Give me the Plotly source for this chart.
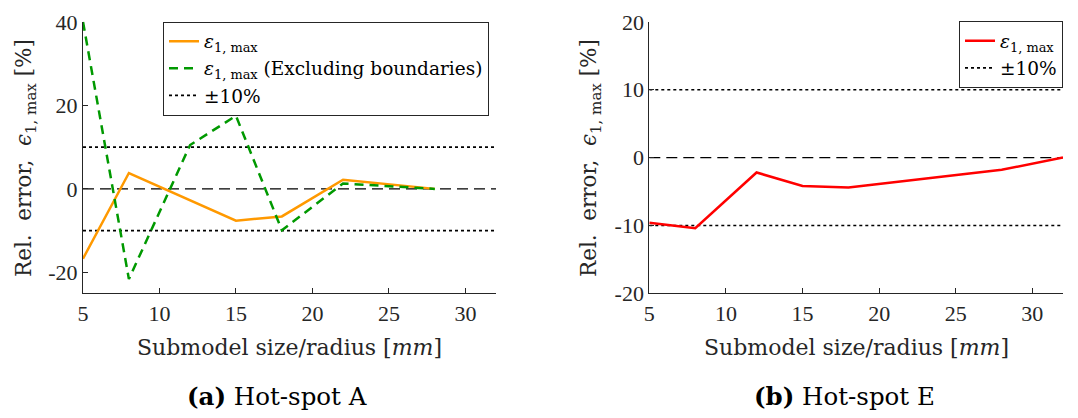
import plotly.graph_objects as go

# ---- data ----
xA_full = [5, 8, 15, 18, 22, 28]
yA_full = [-16.7, 3.8, -7.6, -6.6, 2.2, 0.0]
xA_excl = [5, 8, 12, 15, 18, 22, 28]
yA_excl = [40.0, -21.6, 10.5, 17.5, -9.9, 1.3, 0.0]
xE = [5, 8, 12, 15, 18, 28, 32]
yE = [-9.6, -10.4, -2.2, -4.2, -4.4, -1.8, 0.0]

x_range = [5, 32]
x_ticks = [5, 10, 15, 20, 25, 30]
yA_ticks = [-20, 0, 20, 40]
yE_ticks = [-20, -10, 0, 10, 20]
band = 10

FONT = "DejaVu Serif"
TICKFONT = "Liberation Serif"
AX = "#262626"

fig = go.Figure()

def ref_lines(xa, ya, legend, show):
    fig.add_trace(go.Scatter(x=x_range, y=[band, band], mode="lines", xaxis=xa, yaxis=ya,
                             line=dict(color="black", width=1.6, dash="dot"),
                             name="±10%", showlegend=show, legend=legend, legendrank=3))
    fig.add_trace(go.Scatter(x=x_range, y=[-band, -band], mode="lines", xaxis=xa, yaxis=ya,
                             line=dict(color="black", width=1.6, dash="dot"),
                             showlegend=False, legend=legend))
    fig.add_trace(go.Scatter(x=x_range, y=[0, 0], mode="lines", xaxis=xa, yaxis=ya,
                             line=dict(color="black", width=1.2, dash="11px,6px"),
                             showlegend=False, legend=legend))

ref_lines("x", "y", "legend", True)
fig.add_trace(go.Scatter(x=xA_full, y=yA_full, mode="lines", xaxis="x", yaxis="y",
                         line=dict(color="#FF9900", width=2.5),
                         name="<i>ε</i><sub>1, max</sub>", legend="legend", legendrank=1))
fig.add_trace(go.Scatter(x=xA_excl, y=yA_excl, mode="lines", xaxis="x", yaxis="y",
                         line=dict(color="#009900", width=2.5, dash="9px,6px"),
                         name="<i>ε</i><sub>1, max</sub> (Excluding boundaries)",
                         legend="legend", legendrank=2))

ref_lines("x2", "y2", "legend2", True)
fig.add_trace(go.Scatter(x=xE, y=yE, mode="lines", xaxis="x2", yaxis="y2",
                         line=dict(color="#FF0000", width=2.5),
                         name="<i>ε</i><sub>1, max</sub>", legend="legend2", legendrank=1))

axis_common = dict(showline=True, linecolor=AX, linewidth=1, ticks="inside", ticklen=5,
                   tickcolor=AX, showgrid=False, zeroline=False, mirror=False,
                   automargin=False,
                   tickfont=dict(family=TICKFONT, size=22, color=AX))

W, H = 1078, 418
yd = [1 - 293.3 / H, 1 - 21.8 / H]
LEGFS = 18.5

fig.update_layout(
    width=W, height=H, margin=dict(l=0, r=0, t=0, b=0, autoexpand=False),
    paper_bgcolor="white", plot_bgcolor="white",
    font=dict(family=FONT, size=20, color=AX),
    xaxis=dict(domain=[83 / W, 496 / W], range=x_range, tickvals=x_ticks,
               ticktext=[str(v) for v in x_ticks], anchor="y", **axis_common),
    yaxis=dict(domain=yd, range=[-25, 40], tickvals=yA_ticks,
               ticktext=[str(v) for v in yA_ticks], anchor="x", **axis_common),
    xaxis2=dict(domain=[649.3 / W, 1063 / W], range=x_range, tickvals=x_ticks,
                ticktext=[str(v) for v in x_ticks], anchor="y2", **axis_common),
    yaxis2=dict(domain=yd, range=[-20, 20], tickvals=yE_ticks,
                ticktext=[str(v) for v in yE_ticks], anchor="x2", **axis_common),
    legend=dict(x=163 / W, y=1 - 21.7 / H, xanchor="left", yanchor="top",
                bgcolor="white", bordercolor=AX, borderwidth=1,
                font=dict(family=FONT, size=LEGFS, color="black"),
                tracegroupgap=0, itemwidth=30),
    legend2=dict(x=1063 / W, y=1 - 21.3 / H, xanchor="right", yanchor="top",
                 bgcolor="white", bordercolor=AX, borderwidth=1,
                 font=dict(family=FONT, size=LEGFS, color="black"),
                 tracegroupgap=0, itemwidth=30),
)

ytitle = "Rel.  error,  <i>ϵ</i><sub>1, max</sub> [%]"
xtitle = "Submodel size/radius [<i>mm</i>]"
ann = [
    dict(x=25 / W, y=1 - 158 / H, text=ytitle, textangle=-90, color=AX, size=21.5),
    dict(x=590 / W, y=1 - 158 / H, text=ytitle, textangle=-90, color=AX, size=21.5),
    dict(x=289 / W, y=1 - 347 / H, text=xtitle, color=AX, size=22),
    dict(x=856 / W, y=1 - 347 / H, text=xtitle, color=AX, size=22),
    dict(x=277 / W, y=1 - 396 / H, text="<b>(a)</b> Hot-spot A", color="black", size=24.5),
    dict(x=844 / W, y=1 - 396 / H, text="<b>(b)</b> Hot-spot E", color="black", size=24.5),
]
for a in ann:
    col = a.pop("color")
    sz = a.pop("size")
    fig.add_annotation(xref="paper", yref="paper", showarrow=False,
                       xanchor="center", yanchor="middle",
                       font=dict(family=FONT, size=sz, color=col), **a)

fig.write_html("out.html", config={"displayModeBar": False},
               post_script="document.body.style.margin='0';")
